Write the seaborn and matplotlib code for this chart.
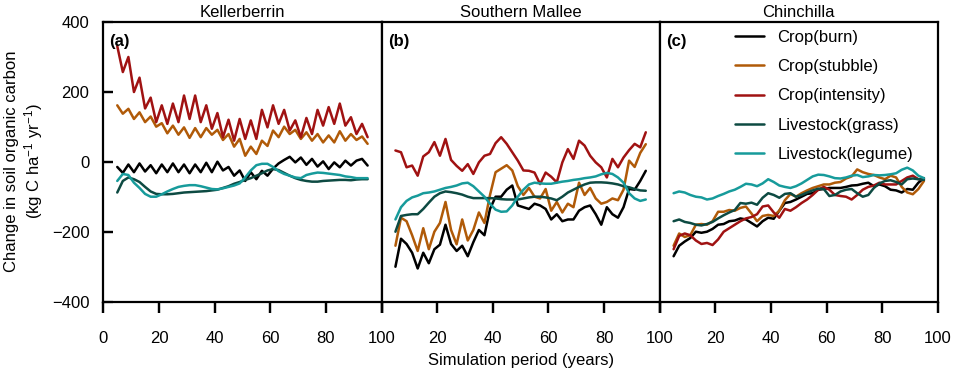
import matplotlib
matplotlib.use("Agg")
import matplotlib.pyplot as plt
import seaborn as sns
import pandas as pd

# simulation years (values read every 2 years)
years = list(range(5, 96, 2))

sites = ["Kellerberrin", "Southern Mallee", "Chinchilla"]
panel_tags = ["(a)", "(b)", "(c)"]
scenarios = ["Crop(burn)", "Crop(stubble)", "Crop(intensity)",
             "Livestock(grass)", "Livestock(legume)"]
colors = ["#000000", "#b05a08", "#a01212", "#0d4a42", "#179b9b"]
xticks = [0, 20, 40, 60, 80, 100]
yticks = [-400, -200, 0, 200, 400]

# Kellerberrin
kell_burn = [-15, -32, -8, -30, -5, -28, -10, -33, -8, -30, -5, -30, -8, -33, -8, -30,
             -3, -30, 0, -25, -15, -40, -25, -55, -30, -50, -26, -40, -20, -5, 5, 14,
             -2, 12, -9, 8, -14, 1, -21, -2, -16, 3, -11, 3, 8, -11]
kell_stubble = [161, 137, 151, 122, 141, 113, 129, 100, 110, 81, 103, 77, 98, 68, 96, 70,
                96, 77, 91, 62, 79, 43, 65, 17, 43, 22, 60, 45, 89, 70, 100, 79,
                91, 65, 84, 60, 79, 55, 75, 55, 87, 60, 79, 62, 72, 51]
kell_intensity = [330, 256, 299, 199, 240, 152, 183, 113, 161, 108, 166, 113, 189, 122, 189, 113,
                  161, 94, 139, 70, 120, 60, 122, 65, 118, 65, 148, 98, 161, 108, 148, 89,
                  118, 70, 125, 79, 148, 103, 156, 108, 166, 103, 127, 79, 108, 70]
kell_grass = [-88, -55, -45, -50, -58, -72, -85, -92, -93, -93, -92, -90, -88, -87, -86, -85,
              -84, -82, -80, -75, -70, -63, -58, -52, -47, -40, -33, -25, -21, -24, -32, -40,
              -47, -52, -55, -57, -57, -55, -54, -53, -52, -52, -53, -51, -50, -50]
kell_legume = [-55, -35, -38, -60, -75, -92, -100, -100, -93, -85, -78, -72, -69, -67, -67, -70,
               -74, -78, -79, -76, -72, -68, -62, -45, -25, -10, -6, -6, -15, -27, -35, -40,
               -45, -47, -38, -34, -31, -32, -34, -36, -38, -42, -44, -47, -47, -47]

# Southern Mallee
mall_burn = [-300, -220, -235, -260, -305, -260, -290, -250, -237, -180, -235, -255, -240, -270, -230, -195,
             -210, -135, -100, -100, -80, -68, -125, -130, -135, -120, -125, -135, -165, -150, -170, -165,
             -165, -140, -130, -125, -150, -180, -130, -150, -160, -130, -78, -80, -55, -26]
mall_stubble = [-240, -160, -170, -210, -255, -190, -250, -200, -175, -115, -195, -236, -165, -225, -195, -145,
                -175, -95, -30, -20, -10, -25, -70, -95, -75, -100, -105, -78, -140, -115, -145, -120,
                -130, -60, -95, -75, -105, -120, -115, -105, -110, -80, 3, -15, 25, 50]
mall_intensity = [32, 27, -16, -11, -40, 15, 27, 56, 17, 65, 5, -12, -26, -7, -35, -2,
                  17, 22, 53, 70, 51, 27, 3, -25, -26, -31, -64, -31, -43, -59, -2, 36,
                  8, 60, 46, 17, -2, -16, -45, 8, -16, 12, 33, 51, 41, 84]
mall_grass = [-200, -155, -152, -150, -150, -135, -117, -100, -90, -85, -87, -90, -94, -100, -104, -104,
              -104, -104, -105, -107, -108, -108, -108, -105, -102, -100, -100, -102, -105, -110, -100, -88,
              -80, -72, -65, -60, -59, -59, -60, -62, -65, -70, -73, -78, -82, -83]
mall_legume = [-165, -130, -112, -102, -97, -90, -88, -85, -80, -75, -72, -68, -62, -60, -70, -85,
               -100, -120, -137, -143, -142, -125, -100, -80, -65, -60, -62, -63, -63, -60, -57, -55,
               -52, -50, -47, -45, -42, -36, -32, -35, -45, -60, -90, -105, -112, -108]

# Chinchilla
chin_burn = [-270, -240, -228, -218, -200, -203, -200, -192, -180, -178, -170, -168, -162, -165, -175, -185,
             -170, -160, -163, -140, -118, -115, -108, -100, -92, -90, -80, -78, -75, -75, -75, -72,
             -68, -67, -63, -60, -70, -65, -70, -80, -82, -88, -78, -80, -60, -47]
chin_stubble = [-240, -205, -215, -210, -180, -178, -180, -170, -143, -143, -138, -140, -132, -128, -148, -170,
                -155, -152, -155, -140, -110, -92, -100, -90, -82, -75, -70, -65, -65, -60, -58, -48,
                -42, -22, -30, -35, -38, -45, -50, -40, -45, -72, -88, -93, -78, -55]
chin_intensity = [-250, -212, -205, -210, -225, -235, -232, -238, -222, -200, -190, -180, -170, -162, -158, -150,
                  -128, -125, -145, -160, -135, -140, -130, -118, -108, -95, -80, -72, -80, -95, -98, -100,
                  -108, -95, -80, -72, -68, -60, -65, -65, -65, -55, -45, -40, -50, -50]
chin_grass = [-170, -165, -172, -175, -180, -182, -178, -172, -162, -153, -145, -138, -118, -120, -117, -123,
              -103, -90, -95, -103, -92, -90, -100, -95, -88, -82, -77, -78, -98, -95, -85, -80,
              -78, -90, -100, -95, -75, -62, -55, -53, -58, -65, -50, -48, -50, -52]
chin_legume = [-90, -85, -88, -95, -100, -102, -108, -105, -98, -92, -85, -80, -72, -63, -65, -70,
               -62, -50, -58, -68, -72, -75, -70, -62, -52, -42, -37, -38, -42, -47, -48, -45,
               -40, -38, -44, -42, -38, -39, -38, -36, -33, -23, -17, -25, -40, -47]

site_series = {
    "Kellerberrin": [kell_burn, kell_stubble, kell_intensity, kell_grass, kell_legume],
    "Southern Mallee": [mall_burn, mall_stubble, mall_intensity, mall_grass, mall_legume],
    "Chinchilla": [chin_burn, chin_stubble, chin_intensity, chin_grass, chin_legume],
}

rows = []
for site in sites:
    for scen, vals in zip(scenarios, site_series[site]):
        for yr, v in zip(years, vals):
            rows.append({"site": site, "scenario": scen, "year": yr, "soc": v})
df = pd.DataFrame(rows)

sns.set_style("ticks")
plt.rcParams["font.family"] = ["Liberation Sans", "DejaVu Sans"]
plt.rcParams["mathtext.default"] = "regular"
plt.rcParams["axes.linewidth"] = 1.6
for key in ["text.color", "axes.labelcolor", "axes.edgecolor", "xtick.color", "ytick.color"]:
    plt.rcParams[key] = "black"
plt.rcParams.update({"xtick.labelsize": 12, "ytick.labelsize": 12,
                     "xtick.major.pad": 13, "ytick.major.pad": 10})

fig, axes = plt.subplots(1, 3, figsize=(9.57, 3.73), dpi=100, sharey=True)
fig.subplots_adjust(left=0.108, right=0.980, bottom=0.191, top=0.942, wspace=0)

palette = dict(zip(scenarios, colors))
for i, (ax, site) in enumerate(zip(axes, sites)):
    sub = df[df["site"] == site]
    sns.lineplot(data=sub, x="year", y="soc", hue="scenario", hue_order=scenarios,
                 palette=palette, linewidth=1.8, ax=ax, legend=(i == 2))
    ax.set_xlim(0, 100)
    ax.set_ylim(-400, 400)
    ax.set_xticks(xticks)
    ax.set_yticks(yticks)
    if i > 0:
        ax.set_xticklabels([""] + [str(t) for t in xticks[1:]])
    ax.tick_params(axis="x", bottom=True, direction="out", length=8, width=1.6, color="black")
    if i == 0:
        ax.tick_params(axis="y", left=True, direction="in", length=7, width=1.6, color="black")
    else:
        ax.tick_params(axis="y", left=False)

    # tick marks drawn as plain lines as well (markers did not render reliably)
    xtr = ax.get_xaxis_transform()
    for t in xticks:
        ax.plot([t, t], [0, -0.039], transform=xtr, clip_on=False, color="black",
                lw=1.6, solid_capstyle="butt")
    if i == 0:
        ytr = ax.get_yaxis_transform()
        for t in yticks[1:-1]:
            ax.plot([0, 0.036], [t, t], transform=ytr, clip_on=False, color="black",
                    lw=1.6, solid_capstyle="butt")

    ax.set_title(site, fontsize=12, pad=3)
    ax.text(0.022, 0.955, panel_tags[i], transform=ax.transAxes, fontsize=12,
            fontweight="bold", va="top", ha="left")
    ax.set_xlabel("")
    ax.set_ylabel("")

axes[0].set_ylabel("Change in soil organic carbon\n(kg C ha$^{-1}$ yr$^{-1}$)",
                   fontsize=12, labelpad=5, linespacing=1.15)
axes[1].set_xlabel("Simulation period (years)", fontsize=12, labelpad=5)

leg = axes[2].legend(loc="upper left", bbox_to_anchor=(0.27, 0.97), frameon=False,
                     fontsize=12, handlelength=1.75, handletextpad=0.8,
                     labelspacing=0.85, borderaxespad=0, borderpad=0)

plt.savefig("out.png", dpi=100)
